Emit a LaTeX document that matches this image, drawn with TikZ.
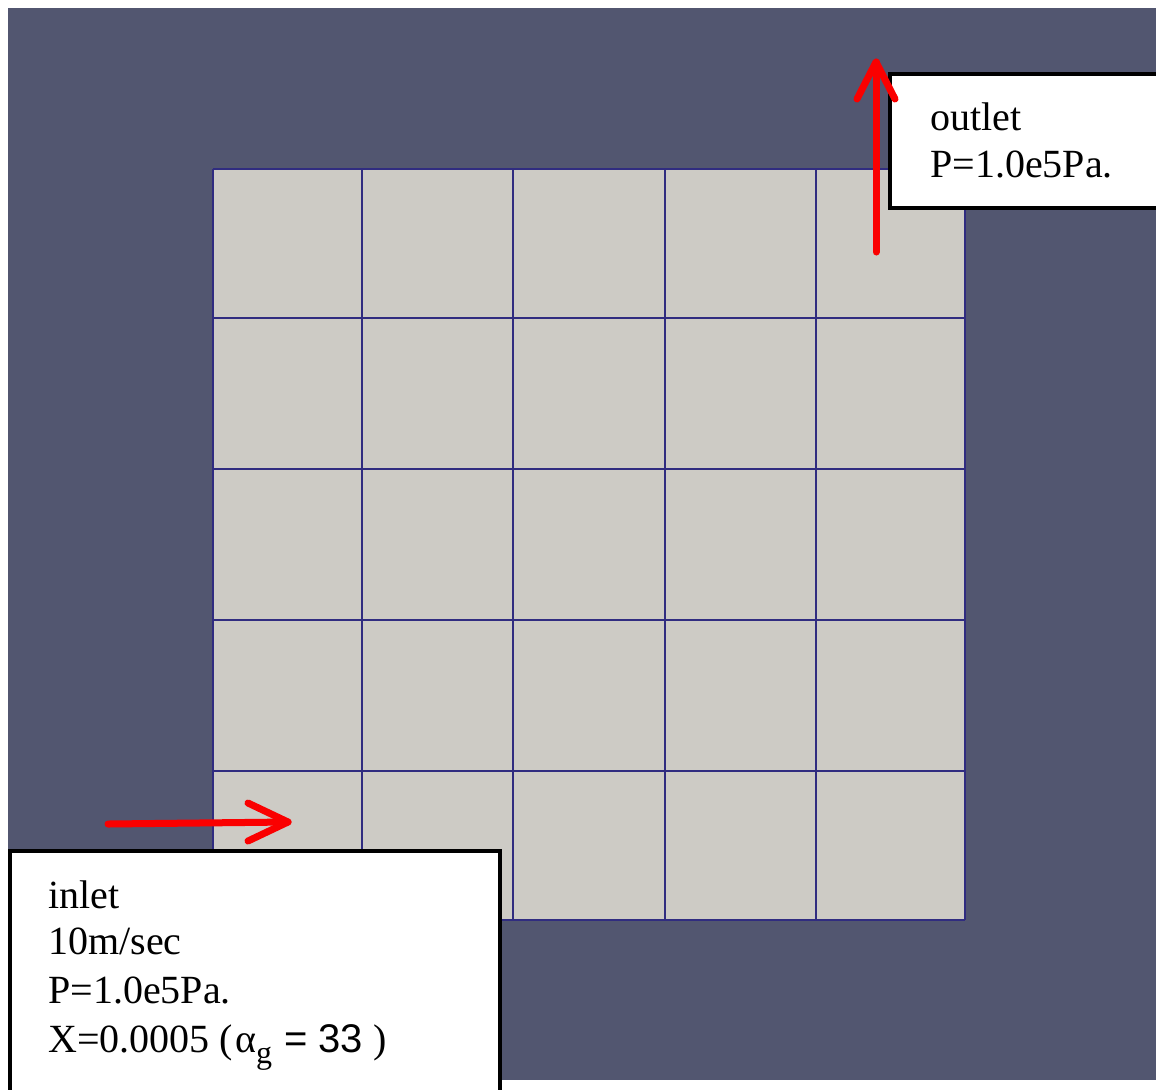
\documentclass[tikz,border=0pt]{standalone}
\usepackage{fontspec}
\setmainfont{Liberation Serif}
\newfontfamily\labelsans{Liberation Sans}
\usetikzlibrary{calc}
\definecolor{viewbg}{RGB}{82,86,112}
\definecolor{cellfill}{RGB}{205,203,197}
\definecolor{meshline}{RGB}{48,44,128}
\definecolor{flowred}{RGB}{250,0,0}
\tikzset{
  meshedge/.style={draw=meshline, line width=1pt},
  labelbox/.style={draw=black, fill=white, line width=2pt},
  lbl/.style={inner sep=0pt, anchor=base west, font=\fontsize{20}{24}\selectfont},
  flow/.style={draw=flowred, line width=3.5pt, line cap=round, line join=round},
}
\begin{document}
\begin{tikzpicture}[x=0.5pt, y=-0.5pt]
  \useasboundingbox (0,0) rectangle (1156,1089);
  \clip (0,0) rectangle (1156,1089);
  \fill[white] (0,0) rectangle (1156,1089);
  % viewport background
  \fill[viewbg] (8,8) rectangle (1170,1080);
  % 5 x 5 mesh
  \fill[cellfill] (213,169) rectangle (965,920);
  \foreach \x in {213,362,513,665,816,965}
    \draw[meshedge] (\x,169) -- (\x,920);
  \foreach \y in {169,318,469,620,771,920}
    \draw[meshedge] (213,\y) -- (965,\y);

  % outlet label
  \draw[labelbox] (890,74) rectangle (1175,208);
  \node[lbl] (outletA) at (930,130) {outlet};
  \node[lbl] (outletB) at (930,177) {P=1.0e5Pa.};

  % inlet label
  \draw[labelbox] (10,851) rectangle (500,1110);
  \node[lbl] (inletA) at (48,908) {inlet};
  \node[lbl] (inletB) at (48,954) {10m/sec};
  \node[lbl] (inletC) at (48,1003) {P=1.0e5Pa.};
  \node[lbl] (inletD) at (48,1052) {X=0.0005 (\kern1ptα\raisebox{-5.5pt}{\fontsize{16}{16}\selectfont g}\kern6pt{\labelsans = 33} )};

  % flow arrows
  \coordinate (inStart) at (108,824);
  \coordinate (inTip) at (288,822);
  \draw[flow] (inStart) -- (inTip);
  \draw[flow] ($(inTip)+(-40,-19)$) -- (inTip) -- ($(inTip)+(-40,19)$);

  \coordinate (outStart) at (876,252);
  \coordinate (outTip) at (876,62);
  \draw[flow] (outStart) -- (outTip);
  \draw[flow] ($(outTip)+(-19,37)$) -- (outTip) -- ($(outTip)+(19,37)$);
\end{tikzpicture}
\end{document}
